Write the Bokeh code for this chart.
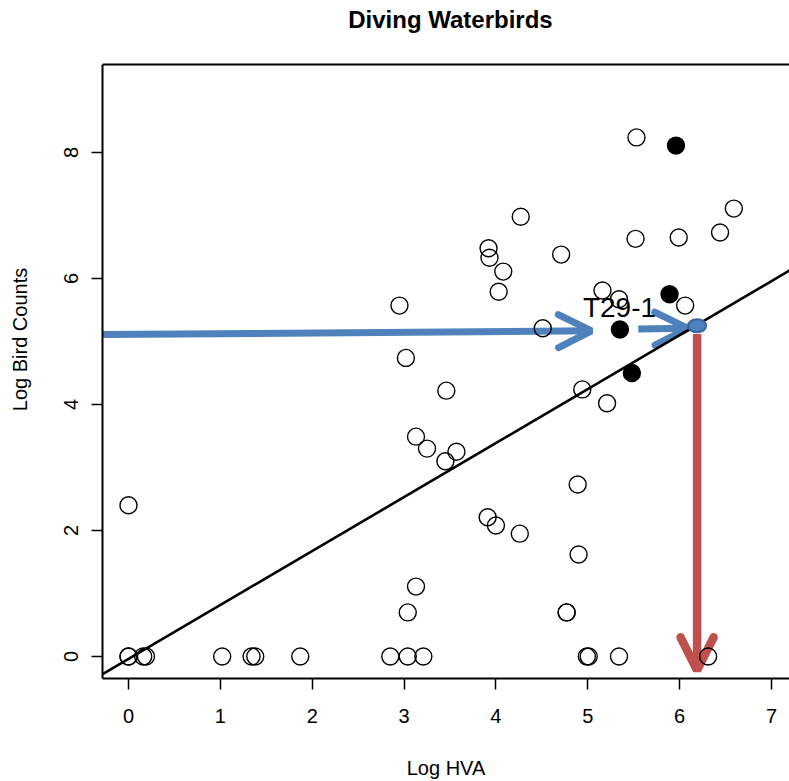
from bokeh.plotting import figure
from bokeh.models import (Range1d, Arrow, OpenHead, Label, Span,
                          FixedTicker, Slope, ColumnDataSource)
from bokeh.embed import file_html
from bokeh.resources import INLINE

# ---- data ----
x_open = [5.53, 4.27, 3.92, 3.93, 4.08, 4.03, 4.71, 5.52, 5.99, 6.59, 6.44,
          5.16, 5.34, 6.06, 2.95, 4.51, 3.02, 3.46, 4.94, 5.21, 3.13, 3.25,
          3.45, 3.57, 0.00, 3.91, 4.00, 4.26, 4.89, 4.90, 3.13, 3.04, 4.77,
          4.77,
          0.00, 0.00, 0.16, 0.19, 1.02, 1.34, 1.38, 1.87, 2.85, 3.04, 3.21,
          4.99, 5.01, 5.34, 6.31]
y_open = [8.24, 6.98, 6.48, 6.33, 6.11, 5.79, 6.38, 6.63, 6.65, 7.11, 6.73,
          5.81, 5.67, 5.57, 5.57, 5.21, 4.74, 4.22, 4.24, 4.02, 3.49, 3.30,
          3.10, 3.25, 2.40, 2.21, 2.08, 1.95, 2.73, 1.62, 1.11, 0.70, 0.70,
          0.70,
          0.00, 0.00, 0.00, 0.00, 0.00, 0.00, 0.00, 0.00, 0.00, 0.00, 0.00,
          0.00, 0.00, 0.00, 0.00]

x_filled = [5.96, 5.89, 5.35, 5.48]
y_filled = [8.11, 5.75, 5.19, 4.50]

fit_intercept = -0.04
fit_slope = 0.857

title_text = "Diving Waterbirds"
site_name = "T29-1"
site_x = 6.19
site_y = 5.25

x_ticks = [0, 1, 2, 3, 4, 5, 6, 7]
y_ticks = [0, 2, 4, 6, 8]

# plot box limits (data coordinates)
box_x = (-0.283, 7.196)
box_y = (-0.349, 9.397)
canvas_y_top = 10.413          # extra room above the box for the title

# annotation positions (data coordinates)
arrow1 = dict(x_start=-0.283, y_start=5.11, x_end=5.04, y_end=5.17)
arrow2 = dict(x_start=5.55, y_start=5.20, x_end=6.09, y_end=5.21)
arrow3 = dict(x_start=6.19, y_start=5.12, x_end=6.19, y_end=-0.22)
label_pos = dict(x=5.345, y=5.54)
title_pos = dict(x=3.505, y=10.11)

BLUE = "#4F81BD"
RED = "#C0504D"
FONT = "Liberation Sans"

p = figure(width=789, height=781,
           x_range=Range1d(*box_x), y_range=Range1d(box_y[0], canvas_y_top),
           output_backend="svg", toolbar_location=None,
           min_border_left=102, min_border_right=0,
           min_border_top=0, min_border_bottom=103)
p.xgrid.visible = False
p.ygrid.visible = False
p.outline_line_color = None
p.background_fill_color = "white"
p.border_fill_color = "white"

p.xaxis.axis_label = "Log HVA"
p.yaxis.axis_label = "Log Bird Counts"
p.xaxis.ticker = FixedTicker(ticks=x_ticks)
p.yaxis.ticker = FixedTicker(ticks=y_ticks)
p.yaxis.bounds = box_y
for ax in (p.xaxis[0], p.yaxis[0]):
    ax.axis_line_color = "black"
    ax.axis_line_width = 2
    ax.major_tick_out = 11
    ax.major_tick_in = 0
    ax.major_tick_line_width = 1.5
    ax.minor_tick_line_color = None
    ax.major_label_text_font = FONT
    ax.major_label_text_font_size = "20px"
    ax.major_label_text_color = "black"
    ax.axis_label_text_font = FONT
    ax.axis_label_text_font_size = "20px"
    ax.axis_label_text_font_style = "normal"
    ax.axis_label_text_color = "black"
p.xaxis.major_label_standoff = 19
p.xaxis.axis_label_standoff = 31
p.yaxis.major_label_orientation = "vertical"
p.yaxis.major_label_standoff = 13
p.yaxis.axis_label_standoff = 31

# top edge of the plot box
p.add_layout(Span(location=box_y[1], dimension="width",
                  line_color="black", line_width=2))

# arrows (under the points)
for a, col, w in ((arrow1, BLUE, 7), (arrow2, BLUE, 7), (arrow3, RED, 8.5)):
    arr = Arrow(end=OpenHead(size=33, line_color=col, line_width=w,
                             line_cap="round"),
                line_color=col, line_width=w, level="underlay", **a)
    p.add_layout(arr)

src_open = ColumnDataSource(dict(x=x_open, y=y_open))
p.scatter("x", "y", source=src_open, size=17, marker="circle",
          fill_color=None, line_color="black", line_width=1.4)
src_filled = ColumnDataSource(dict(x=x_filled, y=y_filled))
p.scatter("x", "y", source=src_filled, size=17, marker="circle",
          fill_color="black", line_color="black", line_width=1.4)

p.add_layout(Slope(gradient=fit_slope, y_intercept=fit_intercept,
                   line_color="black", line_width=2.6))

site = p.ellipse(x=[site_x], y=[site_y], width=18, height=13,
                 width_units="screen", height_units="screen",
                 fill_color=BLUE, line_color="#3A6496", line_width=2)
site.level = "overlay"

p.add_layout(Label(text=site_name, text_align="center",
                   text_baseline="alphabetic", text_font=FONT,
                   text_font_size="28px", text_color="black", **label_pos))

p.add_layout(Label(text=title_text, text_align="center",
                   text_baseline="alphabetic", text_font=FONT,
                   text_font_size="24px", text_font_style="bold",
                   text_color="black", **title_pos))

open("out.html", "w").write(file_html(p, INLINE))
